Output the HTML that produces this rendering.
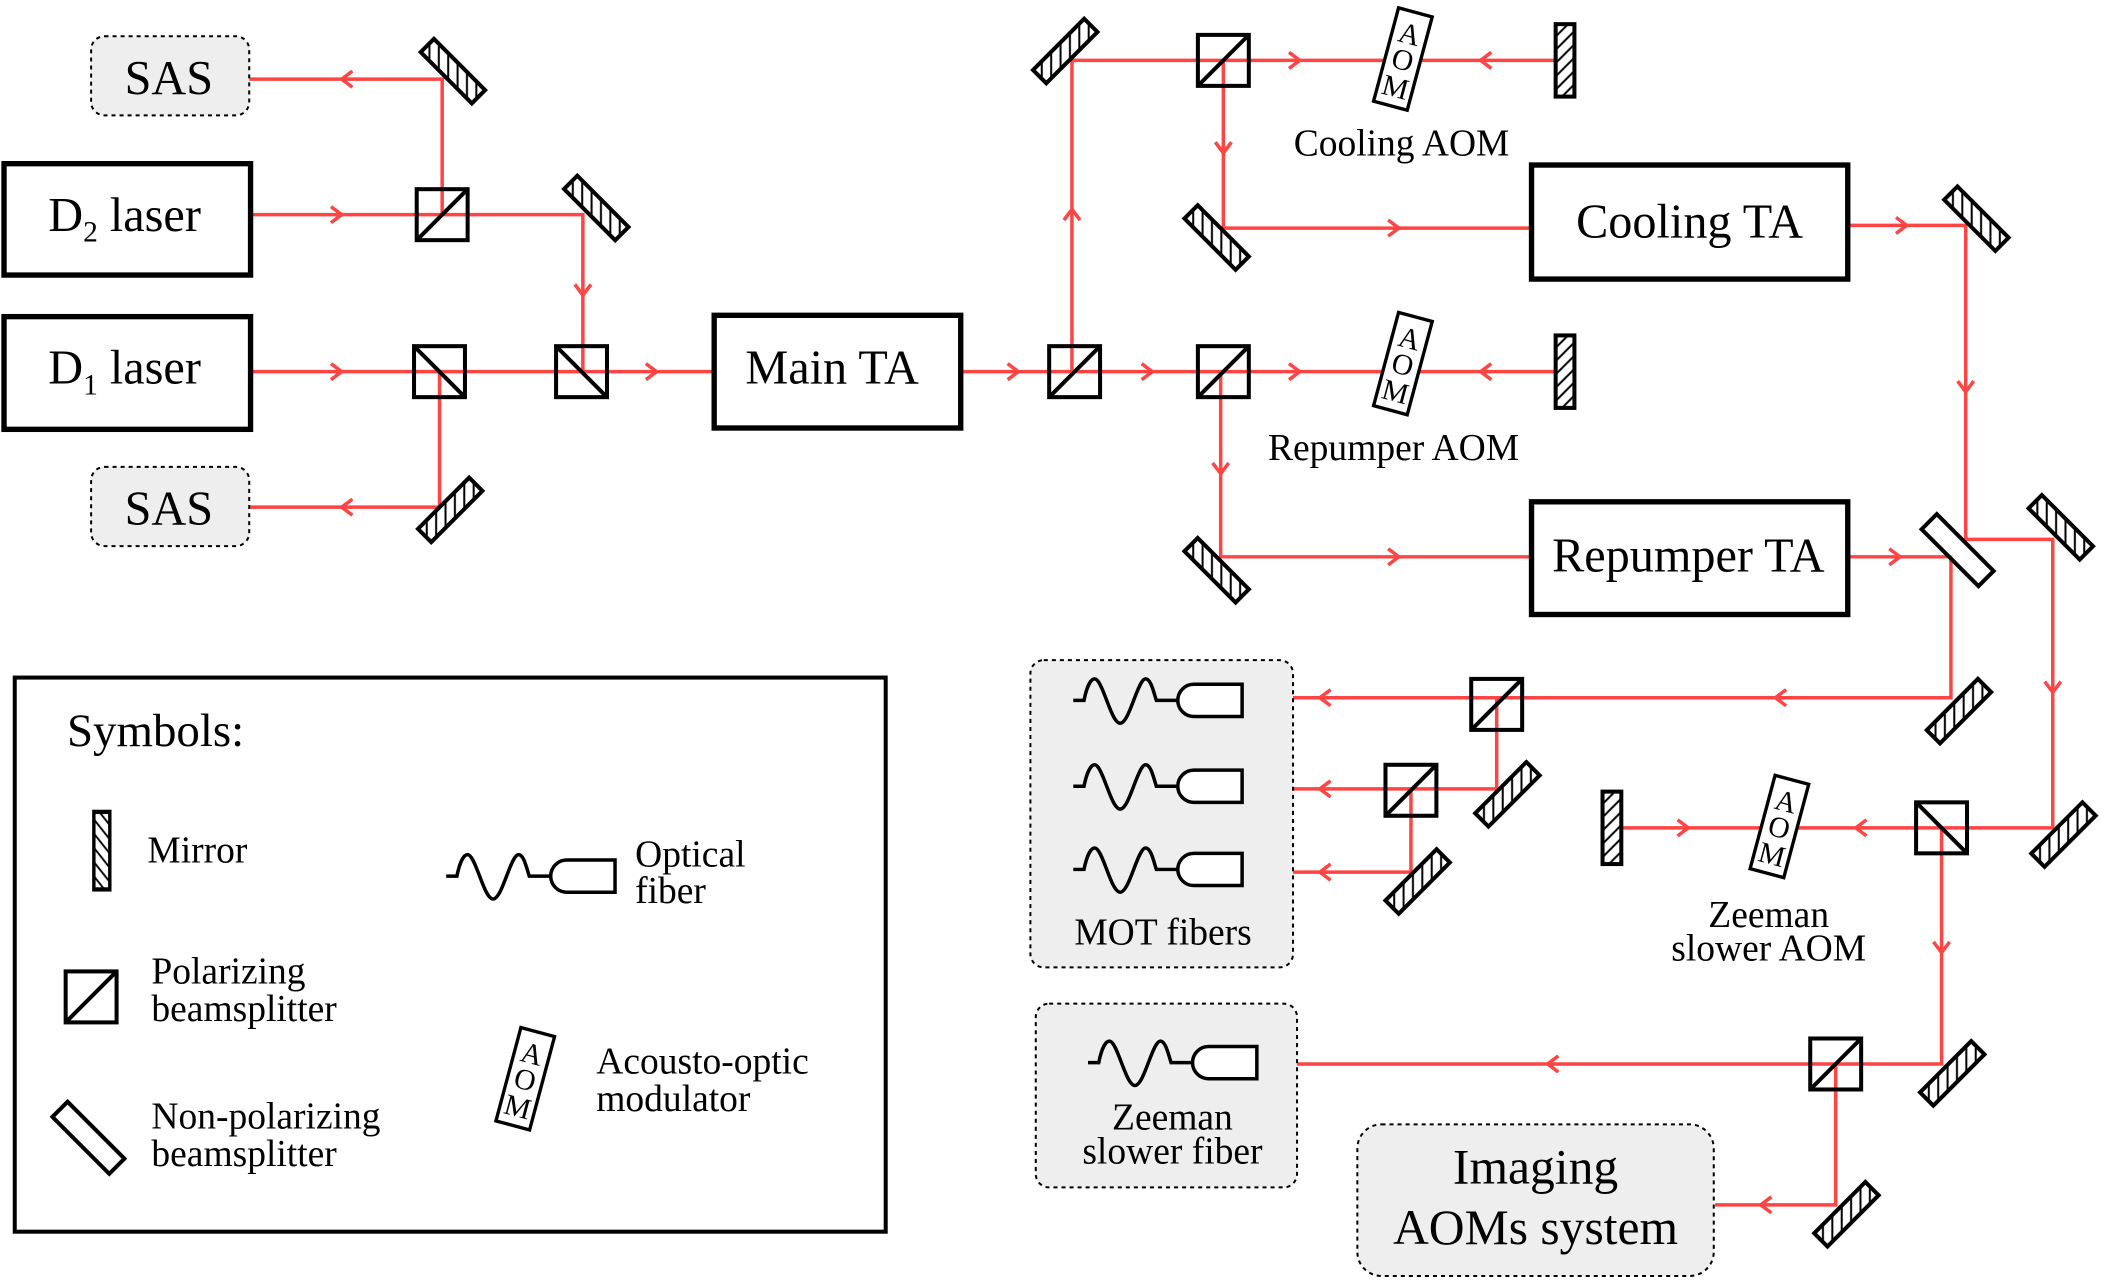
<!DOCTYPE html>
<html><head><meta charset="utf-8"><style>
html,body{margin:0;padding:0;background:#fff}
svg{display:block}
text{font-family:"Liberation Serif",serif;fill:#000}
</style></head><body>
<svg width="2101" height="1280" viewBox="0 0 1568 954" preserveAspectRatio="none" xmlns="http://www.w3.org/2000/svg">
<defs>
<pattern id="hA" patternUnits="userSpaceOnUse" width="7" height="7" patternTransform="rotate(-45)">
<rect width="7" height="7" fill="#fff"/><line x1="3.5" y1="0" x2="3.5" y2="7" stroke="#000" stroke-width="1.5"/>
</pattern>
<pattern id="hB" patternUnits="userSpaceOnUse" width="7" height="7" patternTransform="rotate(45)">
<rect width="7" height="7" fill="#fff"/><line x1="3.5" y1="0" x2="3.5" y2="7" stroke="#000" stroke-width="1.5"/>
</pattern>
<g id="mA"><rect x="-7" y="-27" width="14" height="54" fill="url(#hA)" stroke="#000" stroke-width="3"/></g>
<g id="mB"><rect x="-7" y="-27" width="14" height="54" fill="url(#hB)" stroke="#000" stroke-width="3"/></g>
<g id="pf"><rect x="-19" y="-19" width="38" height="38" fill="none" stroke="#000" stroke-width="3"/><line x1="-19" y1="19" x2="19" y2="-19" stroke="#000" stroke-width="3"/></g>
<g id="pb"><rect x="-19" y="-19" width="38" height="38" fill="none" stroke="#000" stroke-width="3"/><line x1="-19" y1="-19" x2="19" y2="19" stroke="#000" stroke-width="3"/></g>
<g id="fib" fill="none" stroke="#000" stroke-width="2.6">
<path d="M0,0 H8 C10,-10 13,-16 16,-16 C22,-16 28,17 35,17 C42,17 48,-16 54,-16 C58,-16 60,-6 62,0 H78"/>
<path d="M90,-12 H126 V12 H90 A12 12 0 0 1 90 -12 Z" fill="#fff"/>
</g>
<g id="aom"><rect x="-13" y="-36" width="26" height="72" fill="#fff" stroke="#000" stroke-width="2.5"/>
<text x="0" y="-12" font-size="22" text-anchor="middle">A</text><text x="0" y="8" font-size="22" text-anchor="middle">O</text><text x="0" y="29" font-size="22" text-anchor="middle">M</text></g>
</defs>

<!-- beams -->
<g stroke="#f44" stroke-width="2.6" fill="none">
<polyline points="186,59 330,59 330,160"/>
<polyline points="187,160 435,160 435,277"/>
<line x1="187" y1="277" x2="533" y2="277"/>
<polyline points="328,277 328,378 186,378"/>
<line x1="717" y1="277" x2="1162" y2="277"/>
<polyline points="800,277 800,45 1162,45"/>
<polyline points="913,45 913,170 1143,170"/>
<polyline points="1379,168 1467,168 1467,402 1532,402 1532,617 1205,617"/>
<polyline points="911,277 911,415 1143,415"/>
<polyline points="1379,415 1456,415 1456,520 927,520"/>
<polyline points="1117,520 1117,588 927,588"/>
<polyline points="1053,588 1053,650 927,650"/>
<polyline points="1449,617 1449,793 938,793"/>
<polyline points="1370,793 1370,898 1280,898"/>
<polyline points="263,53 255,59 263,65"/>
<polyline points="247,154 255,160 247,166"/>
<polyline points="429,212 435,220 441,212"/>
<polyline points="247,271 255,277 247,283"/>
<polyline points="482,271 490,277 482,283"/>
<polyline points="263,372 255,378 263,384"/>
<polyline points="752,271 760,277 752,283"/>
<polyline points="852,271 860,277 852,283"/>
<polyline points="962,271 970,277 962,283"/>
<polyline points="1113,271 1105,277 1113,283"/>
<polyline points="794,164 800,156 806,164"/>
<polyline points="962,39 970,45 962,51"/>
<polyline points="1113,39 1105,45 1113,51"/>
<polyline points="907,106 913,114 919,106"/>
<polyline points="1036,164 1044,170 1036,176"/>
<polyline points="1415,162 1423,168 1415,174"/>
<polyline points="1461,284 1467,292 1473,284"/>
<polyline points="905,345 911,353 917,345"/>
<polyline points="1036,409 1044,415 1036,421"/>
<polyline points="1410,409 1418,415 1410,421"/>
<polyline points="1526,508 1532,516 1538,508"/>
<polyline points="1333,514 1325,520 1333,526"/>
<polyline points="993,514 985,520 993,526"/>
<polyline points="993,582 985,588 993,594"/>
<polyline points="993,644 985,650 993,656"/>
<polyline points="1393,611 1385,617 1393,623"/>
<polyline points="1252,611 1260,617 1252,623"/>
<polyline points="1443,702 1449,710 1455,702"/>
<polyline points="1163,787 1155,793 1163,799"/>
<polyline points="1322,892 1314,898 1322,904"/>
</g>

<!-- boxes -->
<rect x="68" y="27" width="118" height="59" rx="10" fill="#eee" stroke="#000" stroke-width="1.5" stroke-dasharray="3,3"/>
<text x="126" y="70" font-size="36" text-anchor="middle">SAS</text>
<rect x="68" y="348" width="118" height="59" rx="10" fill="#eee" stroke="#000" stroke-width="1.5" stroke-dasharray="3,3"/>
<text x="126" y="391" font-size="36" text-anchor="middle">SAS</text>
<g fill="#fff" stroke="#000" stroke-width="4">
<rect x="3" y="122" width="184" height="83"/>
<rect x="3" y="236" width="184" height="84"/>
<rect x="533" y="235" width="184" height="84"/>
<rect x="1143" y="123" width="236" height="85"/>
<rect x="1143" y="374" width="236" height="84"/>
</g>
<text x="36" y="172" font-size="36">D<tspan font-size="22" dy="8">2</tspan><tspan dy="-8"> laser</tspan></text>
<text x="36" y="286" font-size="36">D<tspan font-size="22" dy="8">1</tspan><tspan dy="-8"> laser</tspan></text>
<text x="621" y="286" font-size="36" text-anchor="middle">Main TA</text>
<text x="1261" y="177" font-size="36" text-anchor="middle">Cooling TA</text>
<text x="1260" y="426" font-size="36" text-anchor="middle">Repumper TA</text>

<rect x="769" y="492" width="196" height="229" rx="10" fill="#eee" stroke="#000" stroke-width="1.5" stroke-dasharray="3,3"/>
<rect x="773" y="748" width="195" height="137" rx="10" fill="#eee" stroke="#000" stroke-width="1.5" stroke-dasharray="3,3"/>
<rect x="1013" y="838" width="266" height="113" rx="18" fill="#eee" stroke="#000" stroke-width="1.5" stroke-dasharray="3,3"/>
<use href="#fib" transform="translate(801,522)"/>
<use href="#fib" transform="translate(801,586)"/>
<use href="#fib" transform="translate(801,648)"/>
<use href="#fib" transform="translate(812,792)"/>
<text x="868" y="704" font-size="28" text-anchor="middle">MOT fibers</text>
<text x="875" y="842" font-size="28" text-anchor="middle">Zeeman</text>
<text x="875" y="867" font-size="28" text-anchor="middle">slower fiber</text>
<text x="1146" y="882" font-size="37" text-anchor="middle">Imaging</text>
<text x="1146" y="927" font-size="37" text-anchor="middle">AOMs system</text>

<!-- mirrors -->
<use href="#mB" transform="translate(338,53) rotate(-45)"/>
<use href="#mB" transform="translate(445,155) rotate(-45)"/>
<use href="#mA" transform="translate(336,380) rotate(45)"/>
<use href="#mA" transform="translate(795,38) rotate(45)"/>
<use href="#mB" transform="translate(908,177) rotate(-45)"/>
<use href="#mB" transform="translate(1475,163) rotate(-45)"/>
<use href="#mB" transform="translate(908,425) rotate(-45)"/>
<use href="#mB" transform="translate(1538,393) rotate(-45)"/>
<use href="#mA" transform="translate(1462,530) rotate(45)"/>
<use href="#mA" transform="translate(1125,592) rotate(45)"/>
<use href="#mA" transform="translate(1058,657) rotate(45)"/>
<use href="#mA" transform="translate(1540,622) rotate(45)"/>
<use href="#mA" transform="translate(1457,800) rotate(45)"/>
<use href="#mA" transform="translate(1378,905) rotate(45)"/>
<use href="#mB" transform="translate(1168,45)"/>
<use href="#mB" transform="translate(1168,277)"/>
<use href="#mB" transform="translate(1203,617)"/>
<rect x="-8" y="-30" width="16" height="60" fill="#fff" fill-opacity="0.6" stroke="#000" stroke-width="3" transform="translate(1461,410) rotate(-45)"/>

<!-- cubes -->
<use href="#pf" transform="translate(330,160)"/>
<use href="#pb" transform="translate(328,277)"/>
<use href="#pb" transform="translate(434,277)"/>
<use href="#pf" transform="translate(802,277)"/>
<use href="#pf" transform="translate(913,277)"/>
<use href="#pf" transform="translate(913,45)"/>
<use href="#pf" transform="translate(1117,525)"/>
<use href="#pf" transform="translate(1053,589)"/>
<use href="#pb" transform="translate(1449,617)"/>
<use href="#pf" transform="translate(1370,793)"/>

<!-- AOMs -->
<use href="#aom" transform="translate(1047,44) rotate(15)"/>
<use href="#aom" transform="translate(1047,271) rotate(15)"/>
<use href="#aom" transform="translate(1328,616) rotate(15)"/>
<text x="1046" y="116" font-size="28" text-anchor="middle">Cooling AOM</text>
<text x="1040" y="343" font-size="28" text-anchor="middle">Repumper AOM</text>
<text x="1320" y="691" font-size="28" text-anchor="middle">Zeeman</text>
<text x="1320" y="716" font-size="28" text-anchor="middle">slower AOM</text>

<!-- legend -->
<rect x="11" y="505" width="650" height="413" fill="none" stroke="#000" stroke-width="3"/>
<text x="50" y="556" font-size="35">Symbols:</text>
<use href="#mA" transform="translate(76,634) scale(0.85,1.07)"/>
<text x="110" y="643" font-size="28">Mirror</text>
<use href="#pf" transform="translate(68,743)"/>
<text x="113" y="733" font-size="28">Polarizing</text>
<text x="113" y="761" font-size="28">beamsplitter</text>
<rect x="-8" y="-30" width="16" height="60" fill="#fff" stroke="#000" stroke-width="3" transform="translate(66,848) rotate(-45)"/>
<text x="113" y="841" font-size="28">Non-polarizing</text>
<text x="113" y="869" font-size="28">beamsplitter</text>
<use href="#fib" transform="translate(333,653)"/>
<text x="474" y="646" font-size="28">Optical</text>
<text x="474" y="673" font-size="28">fiber</text>
<use href="#aom" transform="translate(392,804) rotate(15)"/>
<text x="445" y="800" font-size="28">Acousto-optic</text>
<text x="445" y="828" font-size="28">modulator</text>
</svg>
</body></html>
